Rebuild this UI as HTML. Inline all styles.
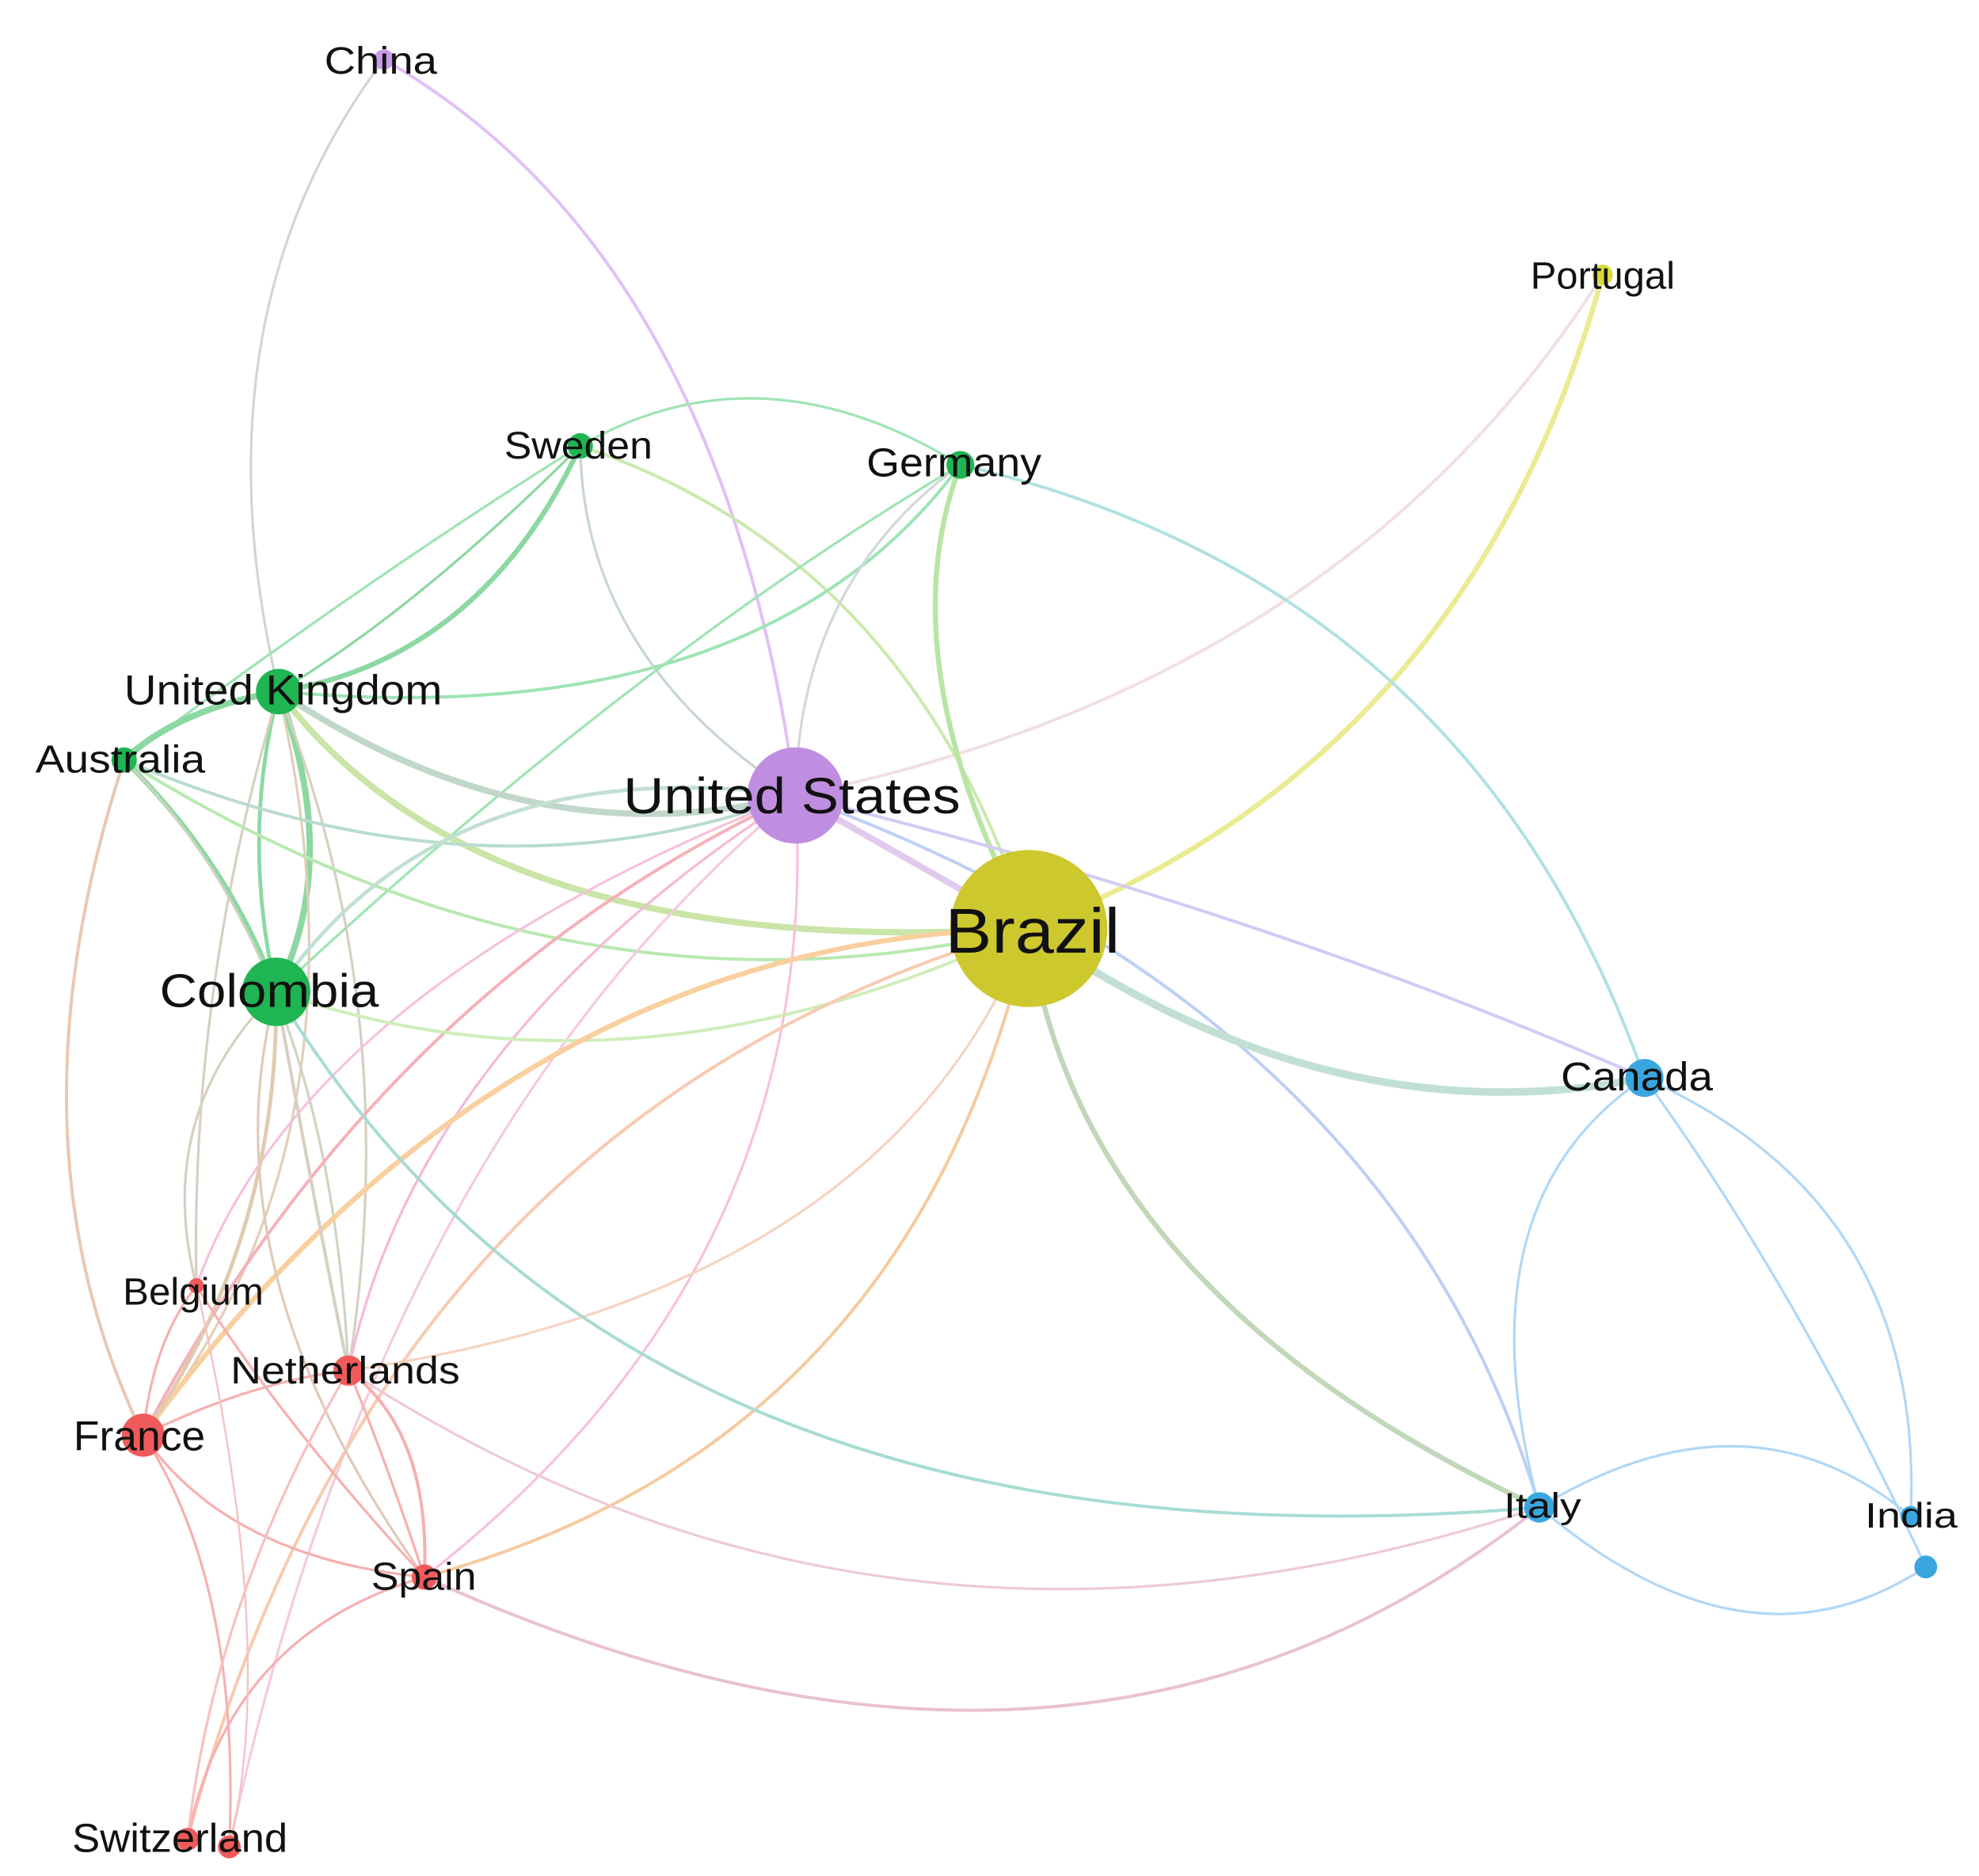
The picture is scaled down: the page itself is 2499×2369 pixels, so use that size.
<!DOCTYPE html>
<html><head><meta charset="utf-8"><style>
html,body{margin:0;padding:0;background:#fff;}
svg{display:block;}
text{font-family:"Liberation Sans","DejaVu Sans",sans-serif;fill:#111;}
</style></head><body>
<svg width="2499" height="2369" viewBox="0 0 1562 1481" preserveAspectRatio="none" xmlns="http://www.w3.org/2000/svg">
<rect width="1562" height="1481" fill="#fff"/>
<g fill="none" stroke-linecap="round" opacity="0.55">
<path d="M303,47 Q150,250 220,546" stroke="#a9b8a6" stroke-width="2"/>
<path d="M303,47 Q570,200 628,628" stroke="#c98ef0" stroke-width="2.5"/>
<path d="M1265,217 Q1160,600 812,733" stroke="#d9db3a" stroke-width="4"/>
<path d="M1265,217 Q1060,540 628,628" stroke="#e7c7c9" stroke-width="2.5"/>
<path d="M458,352 Q600,270 758,367" stroke="#4fcf78" stroke-width="2"/>
<path d="M458,352 Q380,520 220,546" stroke="#2fb957" stroke-width="4"/>
<path d="M458,352 Q330,480 220,546" stroke="#2fb957" stroke-width="2"/>
<path d="M458,352 Q300,450 98,600" stroke="#4fcf78" stroke-width="2"/>
<path d="M458,352 Q460,520 628,628" stroke="#9ab8a8" stroke-width="2"/>
<path d="M458,352 Q720,440 812,733" stroke="#a2d86a" stroke-width="2.5"/>
<path d="M758,367 Q600,580 220,546" stroke="#4fcf78" stroke-width="2.5"/>
<path d="M758,367 Q700,520 812,733" stroke="#7fd05a" stroke-width="4"/>
<path d="M758,367 Q1160,460 1298,851" stroke="#70c9cc" stroke-width="2.5"/>
<path d="M758,367 Q630,460 628,628" stroke="#b0b8c0" stroke-width="2"/>
<path d="M758,367 Q500,520 218,783" stroke="#4fcf78" stroke-width="2"/>
<path d="M220,546 Q420,680 628,628" stroke="#8fb8a0" stroke-width="5"/>
<path d="M220,546 Q380,760 812,733" stroke="#9fd060" stroke-width="5"/>
<path d="M220,546 Q270,680 218,783" stroke="#2fb957" stroke-width="5"/>
<path d="M220,546 Q190,660 218,783" stroke="#2fb957" stroke-width="3"/>
<path d="M220,546 Q140,560 98,600" stroke="#2fb957" stroke-width="5"/>
<path d="M220,546 Q320,800 275,1082" stroke="#b8a890" stroke-width="2"/>
<path d="M220,546 Q150,780 155,1015" stroke="#b8a890" stroke-width="2"/>
<path d="M220,546 Q300,900 113,1133" stroke="#c8a880" stroke-width="2"/>
<path d="M98,600 Q380,720 628,628" stroke="#7fc0a8" stroke-width="2.5"/>
<path d="M98,600 Q450,820 812,733" stroke="#7fd870" stroke-width="2.5"/>
<path d="M98,600 Q180,680 218,783" stroke="#2fb957" stroke-width="4"/>
<path d="M98,600 Q0,900 113,1133" stroke="#d89a70" stroke-width="2.5"/>
<path d="M98,600 Q260,760 275,1082" stroke="#a8b090" stroke-width="2"/>
<path d="M628,628 Q350,590 218,783" stroke="#90c8b0" stroke-width="3"/>
<path d="M628,628 Q720,680 812,733" stroke="#c8a0e0" stroke-width="5"/>
<path d="M628,628 Q1000,720 1298,851" stroke="#b0a0f0" stroke-width="2.5"/>
<path d="M628,628 Q300,780 113,1133" stroke="#f07080" stroke-width="2.5"/>
<path d="M628,628 Q330,820 275,1082" stroke="#f080b0" stroke-width="2"/>
<path d="M628,628 Q650,1000 335,1245" stroke="#f090c8" stroke-width="2"/>
<path d="M628,628 Q240,780 155,1015" stroke="#f090c0" stroke-width="2"/>
<path d="M628,628 Q1100,800 1215,1190" stroke="#8aa8f0" stroke-width="2.5"/>
<path d="M628,628 Q300,900 181,1458" stroke="#f0a0c0" stroke-width="2"/>
<path d="M812,733 Q500,880 218,783" stroke="#a8e080" stroke-width="2.5"/>
<path d="M812,733 Q1050,900 1298,851" stroke="#90c8b0" stroke-width="6"/>
<path d="M812,733 Q850,1020 1215,1190" stroke="#90b880" stroke-width="4"/>
<path d="M812,733 Q400,740 113,1133" stroke="#f5a850" stroke-width="4"/>
<path d="M812,733 Q700,1020 275,1082" stroke="#f0b090" stroke-width="2"/>
<path d="M812,733 Q720,1140 335,1245" stroke="#f0a050" stroke-width="2.5"/>
<path d="M812,733 Q300,880 148,1452" stroke="#f5a070" stroke-width="2.5"/>
<path d="M218,783 Q500,1250 1215,1190" stroke="#60c0b0" stroke-width="2.5"/>
<path d="M218,783 Q120,880 155,1015" stroke="#b8a890" stroke-width="2"/>
<path d="M218,783 Q250,960 275,1082" stroke="#b8a890" stroke-width="2.5"/>
<path d="M218,783 Q220,980 113,1133" stroke="#c8a070" stroke-width="3"/>
<path d="M218,783 Q160,1000 335,1245" stroke="#c8a080" stroke-width="2"/>
<path d="M1298,851 Q1150,950 1215,1190" stroke="#70b8f0" stroke-width="2"/>
<path d="M1298,851 Q1520,950 1508,1197" stroke="#70b8f0" stroke-width="2"/>
<path d="M1298,851 Q1420,1020 1520,1237" stroke="#70b8f0" stroke-width="2"/>
<path d="M1215,1190 Q1380,1090 1508,1197" stroke="#70b8f0" stroke-width="2"/>
<path d="M1215,1190 Q1380,1330 1520,1237" stroke="#70b8f0" stroke-width="2"/>
<path d="M1215,1190 Q850,1480 335,1245" stroke="#d890a8" stroke-width="2.5"/>
<path d="M1215,1190 Q700,1360 275,1082" stroke="#e0a0b0" stroke-width="2"/>
<path d="M335,1245 Q180,1230 113,1133" stroke="#f07070" stroke-width="2"/>
<path d="M335,1245 Q340,1130 275,1082" stroke="#f07070" stroke-width="2.5"/>
<path d="M335,1245 Q300,1140 275,1082" stroke="#f07070" stroke-width="2"/>
<path d="M335,1245 Q180,1290 148,1452" stroke="#f07070" stroke-width="2"/>
<path d="M335,1245 Q220,1120 155,1015" stroke="#f07070" stroke-width="2"/>
<path d="M113,1133 Q190,1250 181,1458" stroke="#f07070" stroke-width="2"/>
<path d="M113,1133 Q200,1090 275,1082" stroke="#f07070" stroke-width="2"/>
<path d="M113,1133 Q120,1060 155,1015" stroke="#f07070" stroke-width="2"/>
<path d="M275,1082 Q170,1260 148,1452" stroke="#f09090" stroke-width="2"/>
<path d="M155,1015 Q220,1300 181,1458" stroke="#f09090" stroke-width="1.5"/>
</g>
<g>
<circle cx="303" cy="47" r="8" fill="#c79be8"/>
<circle cx="1265" cy="217" r="8" fill="#d9d73a"/>
<circle cx="458" cy="352" r="10" fill="#1fb552"/>
<circle cx="758" cy="367" r="11" fill="#1fb552"/>
<circle cx="220" cy="546" r="18" fill="#1fb552"/>
<circle cx="98" cy="600" r="10" fill="#1fb552"/>
<circle cx="628" cy="628" r="38" fill="#c08ee0"/>
<circle cx="812" cy="733" r="62" fill="#cdc82e"/>
<circle cx="218" cy="783" r="27" fill="#1fb552"/>
<circle cx="1298" cy="851" r="15" fill="#3aa6e0"/>
<circle cx="155" cy="1015" r="6" fill="#f05a5a"/>
<circle cx="275" cy="1082" r="12" fill="#f05a5a"/>
<circle cx="113" cy="1133" r="17" fill="#f05a5a"/>
<circle cx="1215" cy="1190" r="12" fill="#3aa6e0"/>
<circle cx="1508" cy="1197" r="8" fill="#3aa6e0"/>
<circle cx="1520" cy="1237" r="9" fill="#3aa6e0"/>
<circle cx="335" cy="1245" r="10" fill="#f05a5a"/>
<circle cx="148" cy="1452" r="9" fill="#f05a5a"/>
<circle cx="181" cy="1458" r="9" fill="#f05a5a"/>
</g>
<g>
<text x="256" y="58" font-size="30" textLength="89" lengthAdjust="spacingAndGlyphs">China</text>
<text x="1208" y="228" font-size="30" textLength="114" lengthAdjust="spacingAndGlyphs">Portugal</text>
<text x="398" y="362" font-size="30" textLength="117" lengthAdjust="spacingAndGlyphs">Sweden</text>
<text x="684" y="376" font-size="32" textLength="138" lengthAdjust="spacingAndGlyphs">Germany</text>
<text x="98" y="556" font-size="33" textLength="251" lengthAdjust="spacingAndGlyphs">United Kingdom</text>
<text x="28" y="610" font-size="31" textLength="134" lengthAdjust="spacingAndGlyphs">Australia</text>
<text x="492" y="642" font-size="40" textLength="266" lengthAdjust="spacingAndGlyphs">United States</text>
<text x="746" y="752" font-size="50" textLength="138" lengthAdjust="spacingAndGlyphs">Brazil</text>
<text x="126" y="795" font-size="37" textLength="173" lengthAdjust="spacingAndGlyphs">Colombia</text>
<text x="1232" y="861" font-size="32" textLength="120" lengthAdjust="spacingAndGlyphs">Canada</text>
<text x="97" y="1030" font-size="30" textLength="111" lengthAdjust="spacingAndGlyphs">Belgium</text>
<text x="182" y="1092" font-size="30" textLength="181" lengthAdjust="spacingAndGlyphs">Netherlands</text>
<text x="58" y="1145" font-size="33" textLength="104" lengthAdjust="spacingAndGlyphs">France</text>
<text x="1187" y="1198" font-size="28" textLength="61" lengthAdjust="spacingAndGlyphs">Italy</text>
<text x="1472" y="1206" font-size="28" textLength="73" lengthAdjust="spacingAndGlyphs">India</text>
<text x="293" y="1255" font-size="31" textLength="83" lengthAdjust="spacingAndGlyphs">Spain</text>
<text x="57" y="1462" font-size="32" textLength="170" lengthAdjust="spacingAndGlyphs">Switzerland</text>
</g>
</svg>
</body></html>
